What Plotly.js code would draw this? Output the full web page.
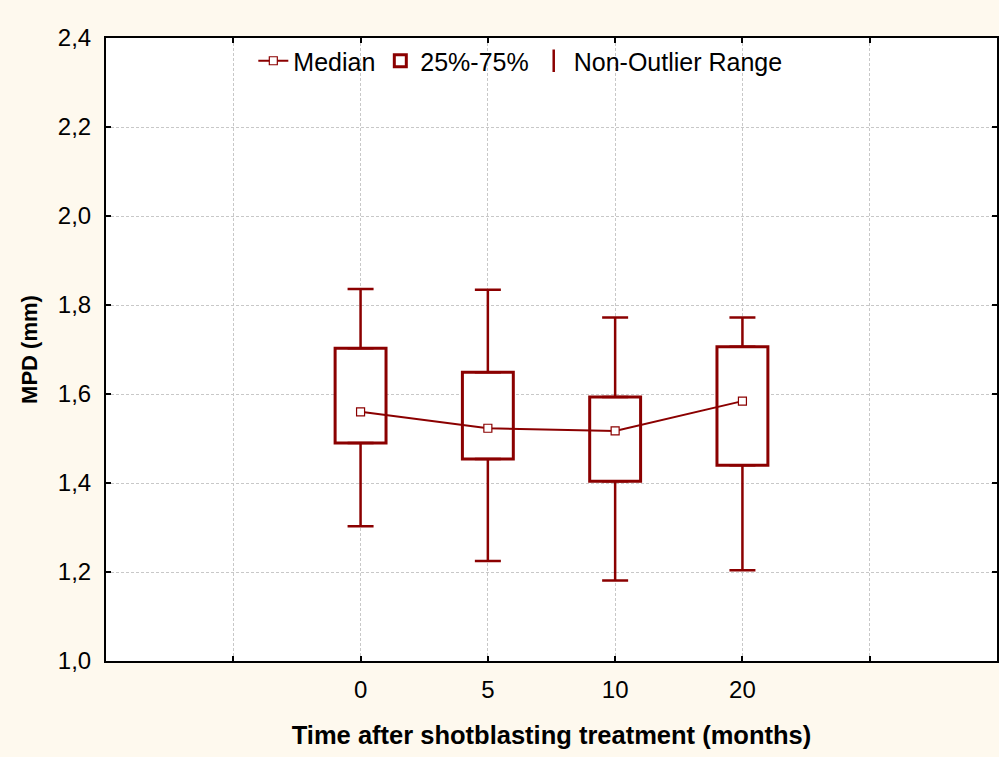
<!DOCTYPE html>
<html>
<head>
<meta charset="utf-8">
<script src="https://cdn.plot.ly/plotly-3.0.1.min.js"></script>
<style>html,body{margin:0;padding:0;background:#fef9ee;}#chart{width:999px;height:757px;}</style>
</head>
<body>
<div id="chart"></div>
<script>
// Data
const categories = ["0", "5", "10", "20"];
const medians    = [1.560, 1.523, 1.517, 1.584];
const q1         = [1.490, 1.454, 1.404, 1.440];
const q3         = [1.703, 1.649, 1.593, 1.706];
const lowerWhisk = [1.303, 1.225, 1.181, 1.204];
const upperWhisk = [1.836, 1.834, 1.772, 1.772];
const tickLabels = ["", "0", "5", "10", "20", ""];

const RED = '#8b0000';
const xpos = categories.map((c, i) => i + 1);

const boxTrace = {
  type: 'bar', name: '25%-75%', legendrank: 2,
  x: xpos, base: q1, y: q3.map((v, i) => v - q1[i]),
  width: 0.4,
  marker: {color: '#ffffff', line: {color: RED, width: 3}},
  hoverinfo: 'skip'
};
const upperTrace = {
  type: 'scatter', mode: 'markers', showlegend: false,
  x: xpos, y: q3,
  marker: {size: 1, color: 'rgba(0,0,0,0)'},
  error_y: {type: 'data', symmetric: false,
    array: upperWhisk.map((v, i) => v - q3[i]),
    arrayminus: q3.map(() => 0),
    color: RED, thickness: 2.5, width: 13},
  hoverinfo: 'skip'
};
const lowerTrace = {
  type: 'scatter', mode: 'markers', showlegend: false,
  x: xpos, y: q1,
  marker: {size: 1, color: 'rgba(0,0,0,0)'},
  error_y: {type: 'data', symmetric: false,
    array: q1.map(() => 0),
    arrayminus: q1.map((v, i) => v - lowerWhisk[i]),
    color: RED, thickness: 2.5, width: 13},
  hoverinfo: 'skip'
};
const rangeLegend = {
  type: 'scatter', mode: 'markers', name: 'Non-Outlier Range', legendrank: 3,
  x: [null], y: [null],
  marker: {symbol: 'line-ns-open', size: 18, color: RED, line: {color: RED, width: 2.5}}
};
const medianTrace = {
  type: 'scatter', mode: 'lines+markers', name: 'Median', legendrank: 1,
  x: xpos, y: medians,
  line: {color: RED, width: 2},
  marker: {symbol: 'square', size: 8, color: '#ffffff', line: {color: RED, width: 1.2}}
};

const layout = {
  width: 999, height: 757,
  paper_bgcolor: '#fef9ee', plot_bgcolor: '#ffffff',
  separators: ',.',
  margin: {l: 106, r: 2, t: 38, b: 96},
  font: {family: 'Liberation Sans, Arial, sans-serif', size: 24, color: '#000'},
  showlegend: true,
  bargap: 0,
  legend: {orientation: 'h', x: 0.465, xanchor: 'center', y: 1.0, yanchor: 'top',
    bgcolor: 'rgba(0,0,0,0)', font: {size: 25}, itemwidth: 30, traceorder: 'normal'},
  xaxis: {
    range: [-1, 6], tickmode: 'array', tickvals: [0, 1, 2, 3, 4, 5], ticktext: tickLabels,
    ticks: 'inside', ticklen: 5, tickwidth: 2, tickcolor: '#000',
    showline: true, linecolor: '#000', linewidth: 2, mirror: 'ticks',
    showgrid: true, gridcolor: '#c8c8c8', griddash: '3px,2px', gridwidth: 1,
    zeroline: false, ticklabelstandoff: 6,
    tickfont: {size: 24},
    title: {text: '<b>Time after shotblasting treatment (months)</b>', font: {size: 25.5}, standoff: 24}
  },
  yaxis: {
    range: [1.0, 2.4], dtick: 0.2, tick0: 1.0, tickformat: '.1f',
    ticks: 'inside', ticklen: 5, tickwidth: 2, tickcolor: '#000',
    showline: true, linecolor: '#000', linewidth: 2, mirror: 'ticks',
    showgrid: true, gridcolor: '#c8c8c8', griddash: '3px,2px', gridwidth: 1,
    zeroline: false, ticklabelstandoff: 8,
    tickfont: {size: 24},
    title: {text: '<b>MPD (mm)</b>', font: {size: 22}, standoff: 14}
  }
};

Plotly.newPlot('chart', [boxTrace, upperTrace, lowerTrace, rangeLegend, medianTrace], layout, {displayModeBar: false, staticPlot: true});
</script>
</body>
</html>
